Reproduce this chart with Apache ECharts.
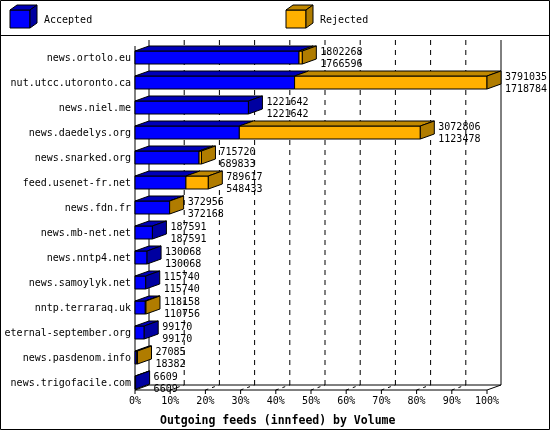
<!DOCTYPE html>
<html>
<head>
<meta charset="utf-8">
<script src="https://cdn.jsdelivr.net/npm/echarts@6/dist/echarts.min.js"></script>
<style>
  html, body { margin: 0; padding: 0; background: #fff; }
  #chart { width: 550px; height: 430px; }
</style>
</head>
<body>
<div id="chart"></div>
<script>
var categories = ['news.ortolo.eu', 'nut.utcc.utoronto.ca', 'news.niel.me', 'news.daedelys.org',
    'news.snarked.org', 'feed.usenet-fr.net', 'news.fdn.fr', 'news.mb-net.net', 'news.nntp4.net',
    'news.samoylyk.net', 'nntp.terraraq.uk', 'eternal-september.org', 'news.pasdenom.info', 'news.trigofacile.com'];
var totals = [1802268, 3791035, 1221642, 3072806, 715720, 789617, 372956, 187591, 130068, 115740, 118158, 99170, 27085, 6609];
var accepted = [1766596, 1718784, 1221642, 1123478, 689833, 548433, 372168, 187591, 130068, 115740, 110756, 99170, 18382, 6609];
var tickPercents = [0, 10, 20, 30, 40, 50, 60, 70, 80, 90, 100];

var maxTotal = Math.max.apply(null, totals);
var DX = 14, DY = 5, BH = 13;
var MONO = '"DejaVu Sans Mono", monospace';

var chart = echarts.init(document.getElementById('chart'));

function renderBar(params, api) {
    var idx = api.value(0), acc = api.value(1), tot = api.value(2);
    var c0 = api.coord([0, idx]);
    var cA = api.coord([acc, idx]);
    var cT = api.coord([tot, idx]);
    var y0 = c0[1] - BH / 2 - 1, y1 = y0 + BH;
    var ch = [];
    function face(xa, xb, col) {
        ch.push({ type: 'rect', shape: { x: xa, y: y0, width: xb - xa, height: BH },
            style: { fill: col, stroke: '#000', lineWidth: 1 } });
    }
    face(c0[0], cA[0], '#0000ff');
    if (tot > acc) face(cA[0], cT[0], '#ffb000');
    var endRej = tot > acc;
    // top face
    if (acc > 0) ch.push({ type: 'polygon', shape: { points: [[c0[0], y0], [c0[0] + DX, y0 - DY], [cA[0] + DX, y0 - DY], [cA[0], y0]] },
        style: { fill: '#0000b8', stroke: '#000', lineWidth: 1 } });
    if (endRej) ch.push({ type: 'polygon', shape: { points: [[cA[0], y0], [cA[0] + DX, y0 - DY], [cT[0] + DX, y0 - DY], [cT[0], y0]] },
        style: { fill: '#c08800', stroke: '#000', lineWidth: 1 } });
    // right face
    ch.push({ type: 'polygon', shape: { points: [[cT[0], y0], [cT[0] + DX, y0 - DY], [cT[0] + DX, y1 - DY], [cT[0], y1]] },
        style: { fill: endRej ? '#b07c00' : '#0000a0', stroke: '#000', lineWidth: 1 } });
    var tx = cT[0] + DX + 4;
    ch.push({ type: 'text', style: { x: tx, y: c0[1] - 6, text: String(totals[idx]), font: '10px ' + MONO, fill: '#000', verticalAlign: 'middle' } });
    ch.push({ type: 'text', style: { x: tx, y: c0[1] + 6, text: String(accepted[idx]), font: '10px ' + MONO, fill: '#000', verticalAlign: 'middle' } });
    return { type: 'group', children: ch };
}

function renderFrame(params, api) {
    var p = api.value(0);
    var v = p / 100 * maxTotal;
    var top = api.coord([v, 0])[1] - 12.5;
    var bot = api.coord([v, categories.length - 1])[1] + 6.5;
    var x = api.coord([v, 0])[0];
    var ch = [];
    var backTop = top - 6;
    if (p === 0 || p === 100) {
        ch.push({ type: 'line', shape: { x1: x + DX, y1: backTop, x2: x + DX, y2: bot - DY }, style: { stroke: '#000', lineWidth: 1 } });
    } else {
        ch.push({ type: 'line', shape: { x1: x + DX, y1: backTop, x2: x + DX, y2: bot - DY }, style: { stroke: '#000', lineWidth: 1, lineDash: [5, 5] } });
    }
    if (p === 0) {
        ch.push({ type: 'line', shape: { x1: x, y1: top, x2: x, y2: bot }, style: { stroke: '#000', lineWidth: 1 } });
        ch.push({ type: 'line', shape: { x1: x, y1: bot, x2: api.coord([maxTotal, 0])[0], y2: bot }, style: { stroke: '#000', lineWidth: 1 } });
        ch.push({ type: 'line', shape: { x1: x + DX, y1: bot - DY, x2: api.coord([maxTotal, 0])[0] + DX, y2: bot - DY }, style: { stroke: '#000', lineWidth: 1 } });
    }
    ch.push({ type: 'line', shape: { x1: x, y1: bot, x2: x + DX, y2: bot - DY }, style: { stroke: '#000', lineWidth: 1, lineDash: p === 0 || p === 100 ? null : [3, 4] } });
    ch.push({ type: 'line', shape: { x1: x, y1: bot, x2: x, y2: bot + 4 }, style: { stroke: '#000', lineWidth: 1 } });
    ch.push({ type: 'text', style: { x: x, y: bot + 11, text: p + '%', font: '10px ' + MONO, fill: '#000', align: 'center', verticalAlign: 'middle' } });
    return { type: 'group', children: ch };
}

function legendBox(x, face, topc, side, label) {
    return [
        { type: 'rect', shape: { x: x, y: 10, width: 20, height: 18 }, style: { fill: face, stroke: '#000', lineWidth: 1 } },
        { type: 'polygon', shape: { points: [[x, 10], [x + 7, 5], [x + 27, 5], [x + 20, 10]] }, style: { fill: topc, stroke: '#000', lineWidth: 1 } },
        { type: 'polygon', shape: { points: [[x + 20, 10], [x + 27, 5], [x + 27, 23], [x + 20, 28]] }, style: { fill: side, stroke: '#000', lineWidth: 1 } },
        { type: 'text', style: { x: x + 34, y: 20, text: label, font: '10px ' + MONO, fill: '#000', verticalAlign: 'middle' } }
    ];
}

var barData = categories.map(function (c, i) { return [i, accepted[i], totals[i]]; });

chart.setOption({
    backgroundColor: '#fff',
    animation: false,
    title: {
        text: 'Outgoing feeds (innfeed) by Volume',
        left: 155, top: 410,
        textStyle: { fontFamily: MONO, fontSize: 11.5, fontWeight: 'bold', color: '#000' }
    },
    grid: { left: 135, top: 46, width: 352, height: 350 },
    xAxis: { type: 'value', min: 0, max: maxTotal, show: false },
    yAxis: {
        type: 'category', data: categories, inverse: true,
        axisLine: { show: false }, axisTick: { show: false }, splitLine: { show: false },
        axisLabel: { margin: 4, fontFamily: MONO, fontSize: 10, color: '#000', offset: 0 }
    },
    graphic: [
        { type: 'rect', shape: { x: 0.5, y: 0.5, width: 549, height: 429 }, style: { fill: 'none', stroke: '#000', lineWidth: 1 }, silent: true },
        { type: 'line', shape: { x1: 0, y1: 35.5, x2: 550, y2: 35.5 }, style: { stroke: '#000', lineWidth: 1 } }
    ].concat(legendBox(10, '#0000ff', '#0000b8', '#0000a0', 'Accepted'))
     .concat(legendBox(286, '#ffb000', '#c08800', '#b07c00', 'Rejected')),
    series: [
        {
            type: 'custom', name: 'frame', z: 1,
            data: tickPercents.map(function (p) { return [p]; }),
            renderItem: renderFrame, encode: { x: 0 }, silent: true, clip: false
        },
        {
            type: 'custom', name: 'bars', z: 2,
            data: barData, renderItem: renderBar,
            encode: { x: [1, 2], y: 0 }, clip: false
        }
    ]
});
</script>
</body>
</html>
